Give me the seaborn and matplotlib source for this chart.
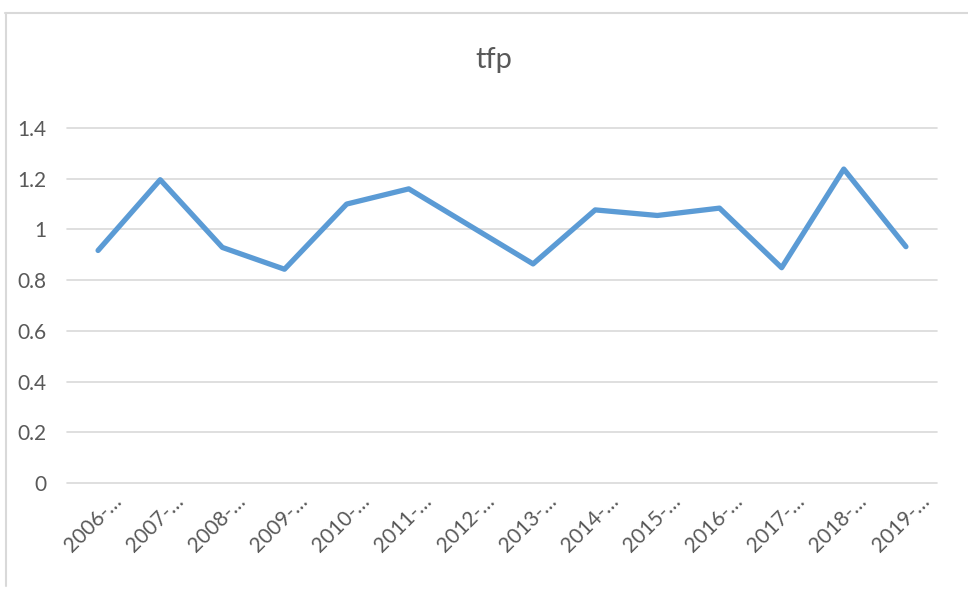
import numpy as np
import pandas as pd
import seaborn as sns
import matplotlib
matplotlib.use("Agg")
import matplotlib.pyplot as plt
from matplotlib.lines import Line2D
import matplotlib.transforms as mtransforms

# ---- data ----
periods = ["2006-…", "2007-…", "2008-…", "2009-…", "2010-…", "2011-…", "2012-…",
           "2013-…", "2014-…", "2015-…", "2016-…", "2017-…", "2018-…", "2019-…"]
tfp = [0.917, 1.196, 0.929, 0.843, 1.100, 1.160, 1.012,
       0.864, 1.077, 1.055, 1.084, 0.849, 1.238, 0.932]
yticks = [0, 0.2, 0.4, 0.6, 0.8, 1.0, 1.2, 1.4]
ytick_labels = ["0", "0.2", "0.4", "0.6", "0.8", "1", "1.2", "1.4"]
title = "tfp"

sns.set_theme(style="white")
plt.rcParams['font.family'] = ['Lato', 'DejaVu Sans']

W, H = 968, 589
fig = plt.figure(figsize=(W / 100, H / 100), dpi=100)
ax = fig.add_axes([67 / W, 1 - 483 / H, (937 - 67) / W, (483 - 128) / H])

df = pd.DataFrame({"pos": np.arange(len(periods)), "tfp": tfp})
sns.lineplot(data=df, x="pos", y="tfp", ax=ax, color="#5B9BD5", linewidth=3.8,
             sort=False)
for ln in ax.lines:
    ln.set_solid_capstyle("round")
    ln.set_solid_joinstyle("round")

ax.set_xlim(-0.5, len(periods) - 0.5)
ax.set_ylim(0, 1.4)
ax.set_yticks(yticks)
ax.set_yticklabels(ytick_labels)
ax.set_xticks(np.arange(len(periods)))
ax.set_xticklabels(periods, rotation=45, ha="right", rotation_mode="anchor")
ax.set_xlabel("")
ax.set_ylabel("")

for y in yticks:
    ax.axhline(y, color="#D9D9D9", linewidth=1.2, zorder=0, clip_on=False)
for s in ax.spines.values():
    s.set_visible(False)

ax.tick_params(axis="y", length=0, pad=15, labelsize=15, labelcolor="#595959")
ax.tick_params(axis="x", length=0, pad=6, labelsize=15, labelcolor="#595959")
offset = mtransforms.ScaledTranslation(13 / 100, 0, fig.dpi_scale_trans)
for lbl in ax.get_xticklabels():
    lbl.set_transform(lbl.get_transform() + offset)

fig.text(494 / W, 1 - 60 / H, title, ha="center", va="center",
         fontsize=21, color="#595959")

# chart border (partial, as in reference)
fig.add_artist(Line2D([5 / W, 1.0], [1 - 13 / H, 1 - 13 / H], color="#D9D9D9", linewidth=1.5))
fig.add_artist(Line2D([6 / W, 6 / W], [1 - 13 / H, 1 - 586 / H], color="#D9D9D9", linewidth=1.5))

fig.savefig("out.png", dpi=100)
